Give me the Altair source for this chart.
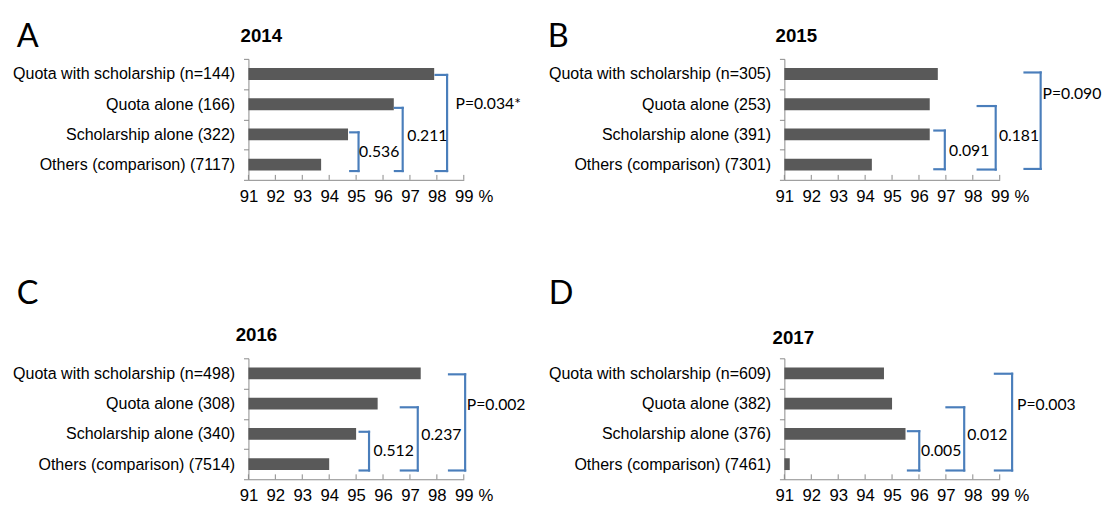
import altair as alt
import pandas as pd

# ---------------- data ----------------
x_ticks = [91, 92, 93, 94, 95, 96, 97, 98, 99]
x_min = 91

years = ["2014", "2015", "2016", "2017"]
letters = ["A", "B", "C", "D"]

cats_2014 = ["Quota with scholarship (n=144)", "Quota alone (166)",
             "Scholarship alone (322)", "Others (comparison) (7117)"]
cats_2015 = ["Quota with scholarship (n=305)", "Quota alone (253)",
             "Scholarship alone (391)", "Others (comparison) (7301)"]
cats_2016 = ["Quota with scholarship (n=498)", "Quota alone (308)",
             "Scholarship alone (340)", "Others (comparison) (7514)"]
cats_2017 = ["Quota with scholarship (n=609)", "Quota alone (382)",
             "Scholarship alone (376)", "Others (comparison) (7461)"]

vals_2014 = [97.9, 96.4, 94.7, 93.7]
vals_2015 = [96.7, 96.4, 96.4, 94.25]
vals_2016 = [97.4, 95.8, 95.0, 94.0]
vals_2017 = [94.7, 95.0, 95.5, 91.2]

# p-value annotations (text)
pvals_2014 = ["0.536", "0.211", "P=0.034*"]
pvals_2015 = ["0.091", "0.181", "P=0.090"]
pvals_2016 = ["0.512", "0.237", "P=0.002"]
pvals_2017 = ["0.005", "0.012", "P=0.003"]

# bracket annotation geometry (x in %, y in row units: 0 = bottom, 4 = top)
br_2014 = dict(xl=[94.78, 96.44, 97.95], xr=[95.09, 96.73, 98.38],
               yt=[1.57, 2.38, 3.47], yb=[0.29, 0.29, 0.29],
               lx=[95.11, 96.90, 98.69], ly=[0.92, 1.46, 2.49])
br_2015 = dict(xl=[96.57, 98.18, 99.92], xr=[96.96, 98.85, 100.52],
               yt=[1.63, 2.44, 3.55], yb=[0.35, 0.34, 0.36],
               lx=[97.12, 98.97, 100.59], ly=[0.95, 1.46, 2.82])
br_2016 = dict(xl=[95.13, 96.66, 98.45], xr=[95.48, 97.29, 99.05],
               yt=[1.57, 2.38, 3.47], yb=[0.29, 0.29, 0.29],
               lx=[95.65, 97.42, 99.11], ly=[0.92, 1.46, 2.44])
br_2017 = dict(xl=[95.59, 97.02, 98.82], xr=[96.01, 97.68, 99.46],
               yt=[1.59, 2.38, 3.49], yb=[0.29, 0.29, 0.29],
               lx=[96.08, 97.79, 99.64], ly=[0.92, 1.46, 2.46])

# ---------------- styling ----------------
W, H = 219, 123
BAR = "#595959"
GRAY = "#898989"
BLUE = "#4a7ebb"
LABEL_FONT = "Liberation Sans"
NOTE_FONT = "Lato"

# letter (axis title) position and title offsets per panel
letter_pos = [(-236, -13), (-241, -13), (-236, -55.5), (-240, -55.5)]
title_off = [(-8, 40.5), (-9, 40.5), (-13, 82.5), (-12, 85.5)]

XAXIS = alt.Axis(values=x_ticks, format="d", grid=False,
                 ticks=False, tickSize=0, labelPadding=9,
                 labelFont=LABEL_FONT, labelFontSize=17,
                 labelColor="black", labelFlush=False,
                 labelOverlap=False, labelSeparation=0,
                 domainColor=GRAY,
                 title="%", titleX=W + 22, titleY=9,
                 titleAlign="center", titleBaseline="top",
                 titleFont=LABEL_FONT, titleFontSize=17,
                 titleFontWeight="normal", titleColor="black")


def panel(cats, vals, br, pv, year, letter, lpos, toff):
    bars_df = pd.DataFrame({"group": cats, "pct": vals})
    xscale = alt.Scale(domain=[x_ticks[0], x_ticks[-1]], nice=False, zero=False)
    rowscale = alt.Scale(domain=[0, 4], nice=False, zero=False)

    bars = alt.Chart(bars_df).mark_bar(color=BAR, size=12).encode(
        x=alt.X("pct:Q", scale=xscale, axis=XAXIS),
        x2=alt.X2(datum=x_min),
        y=alt.Y("group:N", sort=cats,
                scale=alt.Scale(paddingInner=0, paddingOuter=0),
                axis=alt.Axis(grid=False, tickBand="extent", tickSize=5,
                              tickColor=GRAY, domainColor=GRAY,
                              labelFont=LABEL_FONT, labelFontSize=16.3,
                              labelColor="black", labelPadding=9,
                              labelLimit=400,
                              title=letter, titleAngle=0,
                              titleX=lpos[0], titleY=lpos[1],
                              titleAlign="left", titleBaseline="alphabetic",
                              titleFont=NOTE_FONT, titleFontSize=33,
                              titleFontWeight="normal", titleColor="black")),
    )

    # bracket segments
    segs = []
    for xl, xr, yt, yb in zip(br["xl"], br["xr"], br["yt"], br["yb"]):
        segs.append({"pct": xl, "x2": xr, "y": yt, "y2": yt})
        segs.append({"pct": xl, "x2": xr, "y": yb, "y2": yb})
        segs.append({"pct": xr, "x2": xr, "y": yt, "y2": yb})
    seg_df = pd.DataFrame(segs)
    brackets = alt.Chart(seg_df).mark_rule(
        color=BLUE, strokeWidth=2.2, strokeCap="square").encode(
        x=alt.X("pct:Q", scale=xscale, axis=XAXIS),
        x2="x2:Q",
        y=alt.Y("y:Q", scale=rowscale, axis=None),
        y2="y2:Q",
    )

    lab_df = pd.DataFrame({"lab": pv, "pct": br["lx"], "ly": br["ly"]})
    labels = alt.Chart(lab_df).mark_text(
        align="left", baseline="middle", font=NOTE_FONT, fontSize=16,
        color="black").encode(
        x=alt.X("pct:Q", scale=xscale, axis=XAXIS),
        y=alt.Y("ly:Q", scale=rowscale, axis=None),
        text="lab:N",
    )

    tick_df = pd.DataFrame({"pct": x_ticks, "lo": 0.0, "hi": 5 / (H / 4)})
    ticks = alt.Chart(tick_df).mark_rule(color=GRAY, strokeWidth=1).encode(
        x=alt.X("pct:Q", scale=xscale, axis=XAXIS),
        y=alt.Y("lo:Q", scale=rowscale, axis=None),
        y2="hi:Q",
    )

    return alt.layer(bars, ticks, brackets, labels).resolve_scale(
        y="independent").properties(
        width=W, height=H,
        title=alt.TitleParams(text=year, anchor="start", frame="group",
                              align="left", baseline="alphabetic",
                              font=LABEL_FONT, fontSize=19,
                              fontWeight="bold", color="black",
                              offset=0, dx=toff[0], dy=toff[1]))


panels = [
    panel(cats_2014, vals_2014, br_2014, pvals_2014, years[0], letters[0], letter_pos[0], title_off[0]),
    panel(cats_2015, vals_2015, br_2015, pvals_2015, years[1], letters[1], letter_pos[1], title_off[1]),
    panel(cats_2016, vals_2016, br_2016, pvals_2016, years[2], letters[2], letter_pos[2], title_off[2]),
    panel(cats_2017, vals_2017, br_2017, pvals_2017, years[3], letters[3], letter_pos[3], title_off[3]),
]

chart = alt.concat(*panels, columns=2, spacing={"row": 181.5, "column": 326},
                   bounds="flush").properties(
    padding={"left": 4.5, "top": 8.5, "right": 0, "bottom": 0},
    background="white",
).configure_view(stroke=None).configure_axisX(
    labelOverlap=False, labelFlush=False, labelBound=False)

chart.save("out.html", embed_options={"renderer": "svg", "actions": False})
